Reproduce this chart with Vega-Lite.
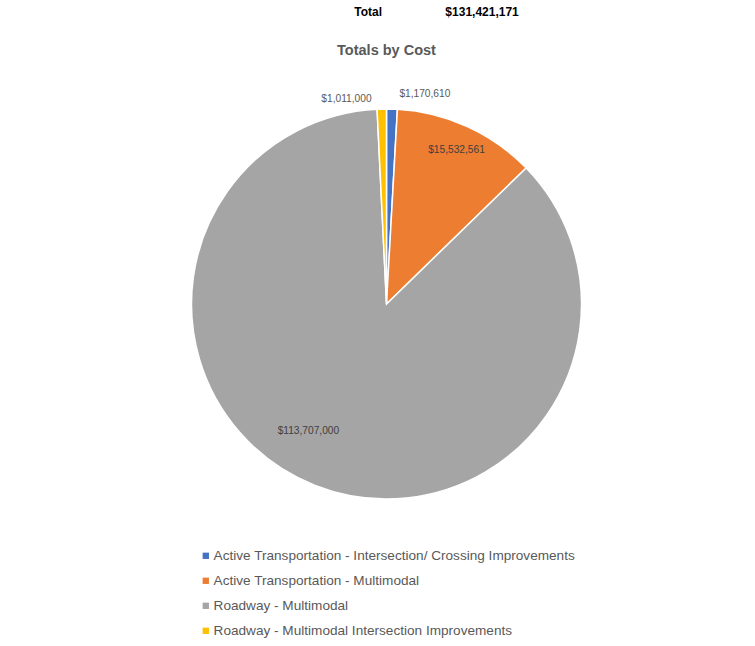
{
  "$schema": "https://vega.github.io/schema/vega-lite/v6.json",
  "width": 737,
  "height": 390,
  "padding": {"left": 18, "top": 5, "right": 0, "bottom": 0},
  "background": "white",
  "title": {
    "text": "\u200b\u00a0\u00a0\u00a0\u00a0\u00a0\u00a0\u00a0\u00a0\u00a0\u00a0\u00a0\u00a0\u00a0\u00a0\u00a0\u00a0\u00a0\u00a0\u00a0\u00a0\u00a0\u00a0\u00a0\u00a0\u00a0\u00a0\u00a0\u00a0\u00a0\u00a0Total\u00a0\u00a0\u00a0\u00a0\u00a0\u00a0\u00a0\u00a0\u00a0\u00a0\u00a0\u00a0\u00a0\u00a0\u00a0\u00a0\u00a0\u00a0\u00a0$131,421,171",
    "subtitle": "Totals by Cost",
    "anchor": "middle",
    "font": "Liberation Sans",
    "fontSize": 12,
    "fontWeight": "bold",
    "color": "#000000",
    "subtitleFont": "Liberation Sans",
    "subtitleFontSize": 14.5,
    "subtitleFontWeight": "bold",
    "subtitleColor": "#595959",
    "subtitlePadding": 25.5,
    "offset": 30.5
  },
  "data": {
    "values": [
      {"category": "Active Transportation - Intersection/ Crossing Improvements", "value": 1170610},
      {"category": "Active Transportation - Multimodal", "value": 15532561},
      {"category": "Roadway - Multimodal", "value": 113707000},
      {"category": "Roadway - Multimodal Intersection Improvements", "value": 1011000}
    ]
  },
  "encoding": {
    "theta": {"field": "value", "type": "quantitative", "stack": true},
    "order": {"field": "category", "type": "ordinal", "sort": "ascending"}
  },
  "layer": [
    {
      "mark": {"type": "arc", "stroke": "white", "strokeWidth": 1.5},
      "encoding": {
        "color": {
          "field": "category",
          "type": "nominal",
          "scale": {
            "domain": [
              "Active Transportation - Intersection/ Crossing Improvements",
              "Active Transportation - Multimodal",
              "Roadway - Multimodal",
              "Roadway - Multimodal Intersection Improvements"
            ],
            "range": ["#4472C4", "#ED7D31", "#A5A5A5", "#FFC000"]
          },
          "legend": {"orient": "none", "legendX": 181, "legendY": 440, "title": null}
        }
      }
    },
    {
      "mark": {"type": "text", "radius": 169, "fontSize": 10.2, "font": "Liberation Sans", "fill": "#404040"},
      "encoding": {
        "detail": {"field": "category", "type": "nominal"},
        "text": {
          "condition": {"test": "datum.category === 'Active Transportation - Multimodal'", "field": "value", "type": "quantitative", "format": "$,.0f"},
          "value": ""
        }
      }
    },
    {
      "mark": {"type": "text", "radius": 149, "dx": -23.5, "dy": -12, "fontSize": 10.2, "font": "Liberation Sans", "fill": "#404040"},
      "encoding": {
        "detail": {"field": "category", "type": "nominal"},
        "text": {
          "condition": {"test": "datum.category === 'Roadway - Multimodal'", "field": "value", "type": "quantitative", "format": "$,.0f"},
          "value": ""
        }
      }
    },
    {
      "mark": {"type": "text", "radius": 210, "dx": 7, "align": "left", "fontSize": 10.2, "font": "Liberation Sans", "fill": "#595959"},
      "encoding": {
        "detail": {"field": "category", "type": "nominal"},
        "text": {
          "condition": {"test": "datum.category === 'Active Transportation - Intersection/ Crossing Improvements'", "field": "value", "type": "quantitative", "format": "$,.0f"},
          "value": ""
        }
      }
    },
    {
      "mark": {"type": "text", "radius": 205, "dx": -10, "align": "right", "fontSize": 10.2, "font": "Liberation Sans", "fill": "#595959"},
      "encoding": {
        "detail": {"field": "category", "type": "nominal"},
        "text": {
          "condition": {"test": "datum.category === 'Roadway - Multimodal Intersection Improvements'", "field": "value", "type": "quantitative", "format": "$,.0f"},
          "value": ""
        }
      }
    }
  ],
  "config": {
    "view": {"stroke": null},
    "legend": {
      "symbolType": "square",
      "symbolSize": 40,
      "symbolStrokeWidth": 0,
      "labelFont": "Liberation Sans",
      "labelFontSize": 13.6,
      "labelColor": "#595959",
      "labelLimit": 600,
      "rowPadding": 10,
      "labelOffset": 1
    }
  }
}
